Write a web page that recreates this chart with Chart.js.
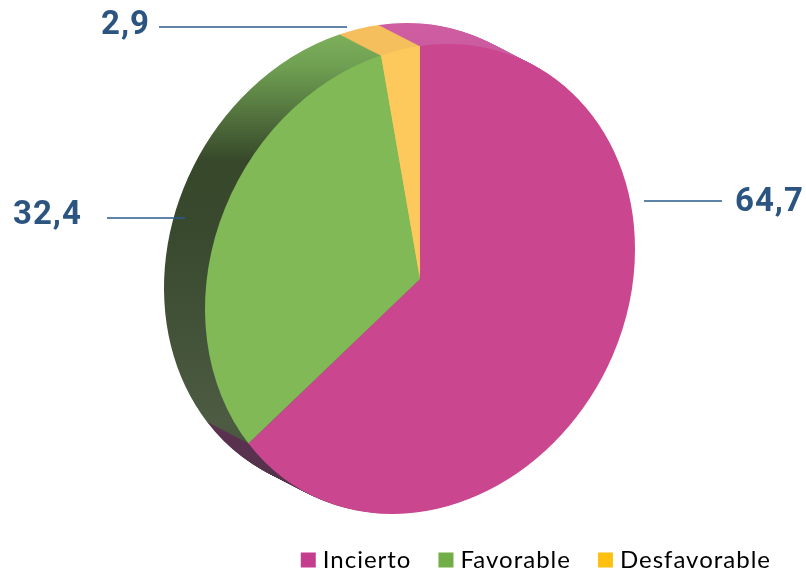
<!DOCTYPE html>
<html><head><meta charset="utf-8">
<style>html,body{margin:0;padding:0;background:#fff}canvas{display:block}</style>
<script src="https://cdn.jsdelivr.net/npm/chart.js@4"></script>
</head><body><canvas id="c" width="806" height="570"></canvas>
<script>
const categories = ['Incierto','Favorable','Desfavorable'];
const values = [64.7,32.4,2.9];
const faceColors = ['#ca468f','#80b955','#fdc95d'];
const legendColors = ['#c43d8e','#72ae48','#ffc00f'];
const sideStops = [
  [[0,'#cf5da2'],[0.5,'#b0508c'],[0.85,'#5b3050'],[1,'#54344c']],
  [[0,'#82b65f'],[0.1,'#6f9f52'],[0.3,'#37482a'],[0.45,'#38492e'],[0.85,'#4c5b42'],[1,'#43503a']],
  [[0,'#f4bf5c'],[1,'#f4bf5c']]
];
const labelAnchors = [
  {text:0, x:735, y:203, line:[644,201,722,201]},
  {text:1, x:13,  y:216, line:[107,218,185,218]},
  {text:2, x:101, y:26,  line:[159,27,347,27]}
];
// Ellipse the (tilted) disc projects to, and the extrusion of its side
const disc = {cx:420, cy:279, rx:215, ry:233, shear:-30, dx:-41, dy:-21, steps:42};
const legendSpacing = '1px';

function discMatrix(arc, ox, oy){
  const R = arc.outerRadius;
  const a = disc.rx/R, b = disc.shear/R, d = disc.ry/R;
  return [a, b, 0, d, disc.cx - a*arc.x + ox, disc.cy - b*arc.x - d*arc.y + oy];
}
const pie3d = {
  id:'pie3d',
  beforeLayout(chart){ chart.ctx.letterSpacing = legendSpacing; },
  beforeDraw(chart){ chart.ctx.letterSpacing = legendSpacing; },
  beforeDatasetsDraw(chart){
    const ctx = chart.ctx, arcs = chart.getDatasetMeta(0).data;
    const grads = sideStops.map(st=>{
      const g = ctx.createLinearGradient(0,20,0,490);
      st.forEach(s=>g.addColorStop(s[0],s[1]));
      return g;
    });
    for(let k=disc.steps;k>=1;k--){
      const t=k/disc.steps;
      arcs.forEach((arc,i)=>{
        ctx.save();
        ctx.setTransform(...discMatrix(arc,disc.dx*t,disc.dy*t));
        ctx.beginPath();
        ctx.moveTo(arc.x,arc.y);
        ctx.arc(arc.x,arc.y,arc.outerRadius,arc.startAngle,arc.endAngle);
        ctx.closePath();
        ctx.setTransform(1,0,0,1,0,0);
        ctx.fillStyle=grads[i];
        ctx.fill();
        ctx.restore();
      });
    }
    ctx.save();
    ctx.setTransform(...discMatrix(arcs[0],0,0));
  },
  afterDatasetsDraw(chart){
    const ctx = chart.ctx;
    ctx.restore();
    ctx.save();
    ctx.letterSpacing='1px';
    ctx.font='bold 33px Roboto, sans-serif';
    ctx.textBaseline='middle';
    labelAnchors.forEach(l=>{
      ctx.strokeStyle='#2a5a8c';ctx.lineWidth=1.5;
      ctx.beginPath();ctx.moveTo(l.line[0],l.line[1]);ctx.lineTo(l.line[2],l.line[3]);ctx.stroke();
      ctx.fillStyle='#2b5580';
      ctx.fillText(values[l.text].toFixed(1).replace('.',','),l.x,l.y);
    });
    ctx.restore();
  }
};
new Chart(document.getElementById('c'),{
  type:'pie',
  data:{labels:categories,datasets:[{data:values,backgroundColor:faceColors,borderWidth:0,clip:false}]},
  options:{
    responsive:false,animation:false,
    layout:{padding:{top:10,left:10,right:3,bottom:-12}},
    plugins:{
      tooltip:{enabled:false},
      legend:{
        position:'bottom',align:'end',
        labels:{
          usePointStyle:true,pointStyle:'rect',boxWidth:5,boxHeight:15,padding:32,
          color:'#1a1a1a',font:{family:'Lato, sans-serif',size:24},
          generateLabels(chart){
            return categories.map((t,i)=>({text:t,fillStyle:legendColors[i],strokeStyle:legendColors[i],lineWidth:0,pointStyle:'rect',index:i,hidden:false}));
          }
        }
      }
    }
  },
  plugins:[pie3d]
});
</script></body></html>
